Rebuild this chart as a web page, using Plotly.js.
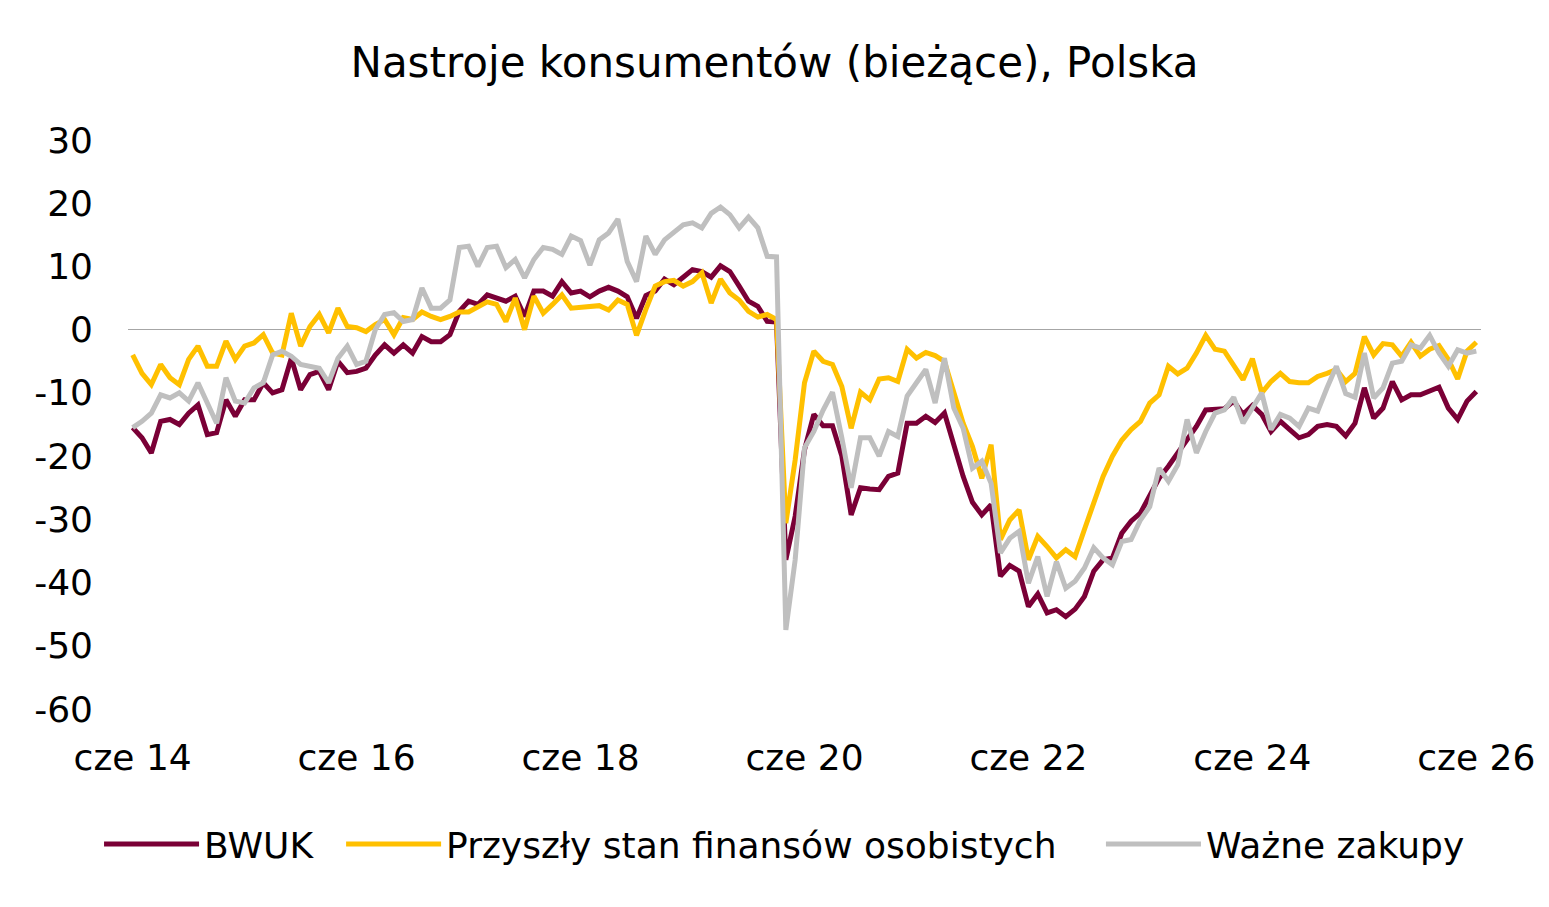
<!DOCTYPE html>
<html>
<head>
<meta charset="utf-8">
<script src="https://cdn.plot.ly/plotly-3.0.1.min.js"></script>
<style>html,body{margin:0;padding:0;background:#fff;}#chart{width:1549px;height:907px;}</style>
</head>
<body>
<div id="chart"></div>
<script>
const chartTitle = "Nastroje konsumentów (bieżące), Polska";
const seriesNames = ["BWUK", "Przyszły stan finansów osobistych", "Ważne zakupy"];
const tickPositions = [0, 24, 48, 72, 96, 120, 144];
const tickLabels = ["cze 14", "cze 16", "cze 18", "cze 20", "cze 22", "cze 24", "cze 26"];
const yTickValues = [-60, -50, -40, -30, -20, -10, 0, 10, 20, 30];
const yTickLabels = ["-60", "-50", "-40", "-30", "-20", "-10", "0", "10", "20", "30"];

const bwuk = [
-15.5,-17.1,-19.5,-14.5,-14.2,-15.0,-13.2,-11.9,-16.6,-16.3,
-11.1,-13.7,-11.1,-11.1,-8.4,-10.0,-9.5,-4.5,-9.5,-7.1,
-6.6,-9.5,-5.0,-6.8,-6.6,-6.1,-4.0,-2.4,-3.7,-2.4,
-3.7,-1.1,-1.9,-1.9,-0.8,2.9,4.5,4.0,5.5,5.0,
4.5,5.3,2.1,6.1,6.1,5.3,7.6,5.8,6.1,5.2,
6.1,6.7,6.1,5.2,1.8,5.4,6.1,8.0,7.1,8.3,
9.5,9.2,8.3,10.1,9.2,6.9,4.5,3.7,1.3,1.2,
-36.4,-29.5,-19.0,-13.4,-15.2,-15.2,-20.0,-29.3,-25.0,-25.2,
-25.3,-23.2,-22.7,-14.8,-14.8,-13.7,-14.7,-13.2,-18.2,-23.2,
-27.3,-29.3,-27.7,-39.0,-37.3,-38.2,-43.8,-41.8,-44.8,-44.3,
-45.4,-44.2,-42.2,-38.2,-36.4,-36.1,-32.2,-30.3,-29.0,-26.1,
-23.5,-21.6,-19.5,-17.1,-15.3,-12.7,-12.6,-12.5,-11.3,-13.4,
-12.0,-13.4,-16.1,-14.5,-15.8,-17.1,-16.6,-15.3,-15.0,-15.3,
-16.8,-14.8,-9.2,-14.0,-12.4,-8.2,-11.1,-10.3,-10.3,-9.8,
-9.1,-12.4,-14.2,-11.3,-9.8
];

const przyszly = [
-4.0,-6.9,-8.7,-5.5,-7.6,-8.7,-4.7,-2.6,-5.8,-5.8,
-1.8,-4.7,-2.6,-2.1,-0.8,-3.7,-4.0,2.6,-2.6,0.5,
2.4,-0.5,3.4,0.5,0.3,-0.3,0.8,1.6,-0.8,1.9,
1.6,2.8,2.1,1.6,2.1,2.8,2.8,3.7,4.4,4.0,
1.3,5.0,0.0,5.3,2.6,4.0,5.5,3.4,3.6,3.6,
3.8,3.1,4.7,4.0,-0.9,3.2,6.9,7.6,7.8,6.9,
7.6,9.0,4.2,8.0,5.8,4.7,2.9,2.0,2.4,1.6,
-30.6,-20.6,-8.4,-3.4,-5.0,-5.5,-9.0,-15.6,-9.9,-11.1,
-7.8,-7.6,-8.2,-3.1,-4.5,-3.6,-4.1,-5.0,-10.0,-14.8,
-18.5,-23.5,-18.2,-33.2,-30.1,-28.5,-36.4,-32.7,-34.3,-36.1,
-34.8,-35.9,-31.6,-27.4,-23.2,-20.0,-17.5,-15.8,-14.5,-11.6,
-10.3,-5.8,-7.0,-6.1,-3.7,-0.9,-3.1,-3.4,-5.5,-7.9,
-4.6,-10.0,-8.2,-6.9,-8.2,-8.4,-8.4,-7.4,-6.9,-6.3,
-8.2,-6.9,-1.1,-4.0,-2.2,-2.4,-4.2,-2.0,-4.2,-3.1,
-2.5,-4.7,-7.8,-3.4,-2.0
];

const wazneZakupy = [
-15.5,-14.5,-13.2,-10.3,-10.8,-10.0,-11.3,-8.4,-11.6,-14.8,
-7.6,-11.3,-11.6,-9.2,-8.4,-4.0,-3.4,-4.2,-5.5,-5.8,
-6.1,-8.4,-4.5,-2.6,-5.5,-5.0,0.0,2.4,2.7,1.3,
1.6,6.6,3.4,3.4,4.7,13.0,13.2,10.0,13.0,13.2,
9.8,11.1,8.2,11.1,13.0,12.7,11.9,14.8,14.1,10.2,
14.2,15.3,17.5,10.8,7.6,14.8,11.9,14.2,15.3,16.6,
16.9,16.1,18.4,19.4,18.2,16.1,17.8,16.1,11.6,11.5,
-47.5,-36.4,-18.7,-16.1,-12.7,-9.9,-17.1,-25.0,-17.1,-17.1,
-20.0,-16.1,-16.9,-10.5,-8.4,-6.3,-11.6,-4.5,-12.4,-15.6,
-21.9,-20.8,-24.3,-35.3,-33.0,-31.9,-40.1,-35.9,-42.2,-36.7,
-40.9,-39.8,-37.7,-34.5,-36.1,-37.2,-33.5,-33.2,-30.1,-28.0,
-21.9,-24.0,-21.4,-14.2,-19.5,-16.1,-13.2,-12.7,-10.7,-14.8,
-12.4,-10.0,-15.8,-13.4,-14.0,-15.3,-12.4,-12.9,-9.2,-5.8,
-10.1,-10.7,-3.7,-10.8,-9.2,-5.3,-5.0,-2.4,-2.9,-0.9,
-3.7,-5.8,-3.2,-3.7,-3.4
];

const colors = ["#7A0036", "#FFC000", "#BFBFBF"];
const allSeries = [bwuk, przyszly, wazneZakupy];
const legendIds = ["legend", "legend2", "legend3"];
const legendX = [-0.0214, 0.1575, 0.7191];

const traces = allSeries.map((vals, k) => ({
  type: "scatter",
  mode: "lines",
  name: seriesNames[k],
  x: vals.map((v, i) => i),
  y: vals,
  line: {color: colors[k], width: 5},
  legend: legendIds[k],
  hoverinfo: "skip"
}));

const FONT = "DejaVu Sans, Verdana, sans-serif";

function legendDef(x) {
  return {
    orientation: "h",
    x: x, xanchor: "left",
    y: -0.1847, yanchor: "top",
    font: {family: FONT, size: 36, color: "#000000"},
    itemwidth: 95,
    bgcolor: "rgba(0,0,0,0)",
    borderwidth: 0
  };
}

const layout = {
  width: 1549,
  height: 907,
  paper_bgcolor: "#ffffff",
  plot_bgcolor: "#ffffff",
  margin: {l: 128, r: 68, t: 140, b: 198},
  font: {family: FONT, size: 36, color: "#000000"},
  title: {
    text: chartTitle,
    font: {family: FONT, size: 42, color: "#000000"},
    x: 0.5, xanchor: "center",
    y: 1 - 62 / 907, yanchor: "middle"
  },
  xaxis: {
    range: [-0.5, 144.5],
    showgrid: false,
    zeroline: false,
    showline: false,
    ticks: "",
    tickmode: "array",
    tickvals: tickPositions,
    ticktext: tickLabels,
    tickfont: {family: FONT, size: 36, color: "#000000"},
    ticklabelstandoff: 24
  },
  yaxis: {
    range: [-60, 30],
    tickmode: "array",
    tickvals: yTickValues,
    ticktext: yTickLabels,
    showgrid: false,
    zeroline: true,
    zerolinecolor: "#A6A6A6",
    zerolinewidth: 1,
    showline: false,
    ticks: "",
    tickfont: {family: FONT, size: 36, color: "#000000"},
    ticklabelstandoff: 34
  },
  showlegend: true,
  legend: legendDef(legendX[0]),
  legend2: legendDef(legendX[1]),
  legend3: legendDef(legendX[2])
};

Plotly.newPlot("chart", traces, layout, {staticPlot: true, displayModeBar: false});
</script>
</body>
</html>
